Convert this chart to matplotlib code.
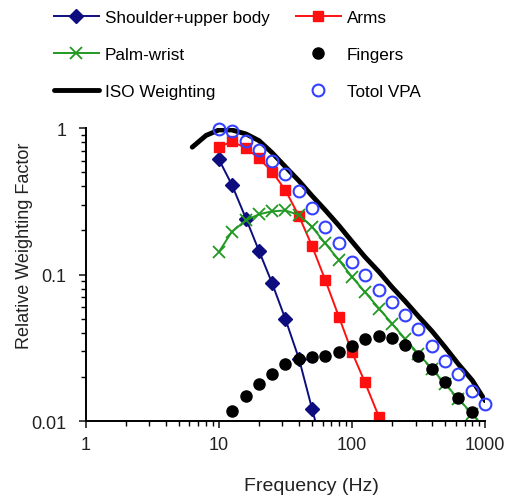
import matplotlib
matplotlib.use("Agg")
import matplotlib.pyplot as plt
import numpy as np

plt.rcParams['font.family'] = ['Liberation Sans', 'DejaVu Sans']

# third-octave band frequencies (Hz)
freq_shoulder = [10, 12.5, 16, 20, 25, 31.5, 40, 50, 63]
shoulder = [0.61, 0.41, 0.24, 0.145, 0.088, 0.050, 0.0265, 0.0122, 0.0055]

freq_arms = [10, 12.5, 16, 20, 25, 31.5, 40, 50, 63, 80, 100, 125, 160]
arms = [0.74, 0.81, 0.73, 0.62, 0.505, 0.378, 0.25, 0.157, 0.0915, 0.051,
        0.0295, 0.0184, 0.0106]

freq_palm = [10, 12.5, 16, 20, 25, 31.5, 40, 50, 63, 80, 100, 125, 160, 200,
             250, 315, 400, 500, 630, 800, 1000]
palm = [0.143, 0.196, 0.235, 0.258, 0.27, 0.274, 0.255, 0.212, 0.163, 0.125,
        0.0964, 0.076, 0.0585, 0.0462, 0.0365, 0.0288, 0.0227, 0.0179,
        0.0142, 0.0112, 0.0088]

freq_fingers = [12.5, 16, 20, 25, 31.5, 40, 50, 63, 80, 100, 125, 160, 200,
                250, 315, 400, 500, 630, 800]
fingers = [0.0118, 0.0149, 0.0179, 0.021, 0.0245, 0.0266, 0.0273, 0.0279,
           0.0298, 0.0328, 0.0365, 0.038, 0.0369, 0.0333, 0.0277, 0.0227,
           0.0184, 0.0145, 0.0115]

freq_iso = [6.3, 8, 10, 12.5, 16, 20, 25, 31.5, 40, 50, 63, 80, 100, 125, 160,
            200, 250, 315, 400, 500, 630, 800, 1000]
iso = [0.74, 0.89, 0.97, 0.97, 0.91, 0.82, 0.68, 0.545, 0.435, 0.345, 0.275,
       0.215, 0.168, 0.132, 0.104, 0.082, 0.066, 0.052, 0.041, 0.032, 0.0245,
       0.019, 0.0138]

freq_total = [10, 12.5, 16, 20, 25, 31.5, 40, 50, 63, 80, 100, 125, 160, 200,
              250, 315, 400, 500, 630, 800, 1000]
total = [0.99, 0.96, 0.82, 0.71, 0.597, 0.484, 0.372, 0.283, 0.212, 0.163,
         0.122, 0.099, 0.078, 0.065, 0.0526, 0.0427, 0.0328, 0.0259, 0.021,
         0.0161, 0.0131]

fig = plt.figure(figsize=(5.08, 5.02), dpi=100)
ax = fig.add_axes([0.169, 0.159, 0.786, 0.584])

l1, = ax.plot(freq_shoulder, shoulder, color="#0d0d80", marker="D", ms=7,
              lw=1.4, label="Shoulder+upper body")
l2, = ax.plot(freq_arms, arms, color="#ff1010", marker="s", ms=7.5,
              lw=1.4, label="Arms")
l3, = ax.plot(freq_palm, palm, color="#229922", marker="x", ms=8.5, mew=1.3,
              lw=1.4, label="Palm-wrist")
l4, = ax.plot(freq_fingers, fingers, color="black", marker="o", ms=8,
              ls="none", label="Fingers", zorder=4)
l5, = ax.plot(freq_iso, iso, color="black", lw=3.5, label="ISO Weighting",
              zorder=2, solid_capstyle="round")
l6, = ax.plot(freq_total, total, color="#3340ff", marker="o", ms=8.5, mfc="none",
              mew=1.5, ls="none", label="Totol VPA", zorder=5, clip_on=False)

ax.set_xscale("log")
ax.set_yscale("log")
ax.set_xlim(1, 1000)
ax.set_ylim(0.01, 1)

ax.spines["top"].set_visible(False)
ax.spines["right"].set_visible(False)
ax.spines["left"].set_linewidth(1.4)
ax.spines["bottom"].set_linewidth(1.4)

ax.set_xticks([1, 10, 100, 1000])
ax.set_xticklabels(["1", "10", "100", "1000"])
ax.set_yticks([0.01, 0.1, 1])
ax.set_yticklabels(["0.01", "0.1", "1"])
ax.tick_params(which="major", direction="out", length=5, width=1.2,
               labelsize=13, colors="#222222")
ax.tick_params(axis="y", which="major", pad=9)
ax.tick_params(axis="x", which="major", pad=6)
ax.tick_params(which="minor", direction="out", length=3.5, width=1.0)

ax.set_xlabel("Frequency (Hz)", fontsize=14, color="#222222", va="top")
ax.xaxis.set_label_coords(0.566, -0.19)
ax.set_ylabel("Relative Weighting Factor", fontsize=13, color="#222222")
ax.yaxis.set_label_coords(-0.133, 0.6)

fig.legend(handles=[l1, l3, l5, l2, l4, l6], loc="upper left",
           bbox_to_anchor=(0.106, 0.978), ncol=2, frameon=False, fontsize=12.3,
           handlelength=2.65, labelspacing=1.3, columnspacing=1.5,
           handletextpad=0.35, borderpad=0, borderaxespad=0)

fig.savefig("out.png", dpi=100)
